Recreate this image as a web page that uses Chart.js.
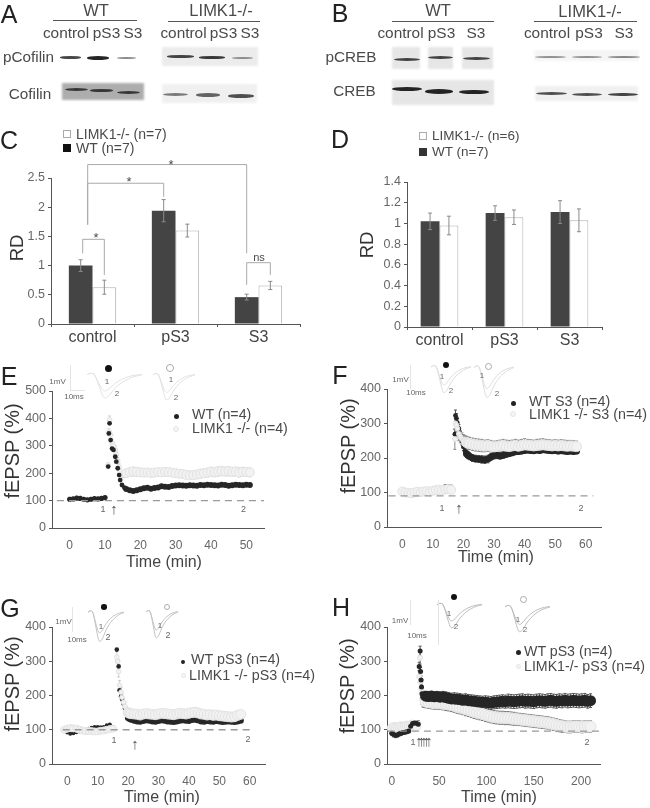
<!DOCTYPE html>
<html>
<head>
<meta charset="utf-8">
<style>
html, body { margin: 0; padding: 0; background: #fff; }
#stage { position: relative; width: 650px; height: 808px; overflow: hidden; font-family: "Liberation Sans", Arial, sans-serif; filter: blur(0.35px); }
#stage canvas { position: absolute; }
.t { position: absolute; white-space: nowrap; line-height: 1; }
.m { position: absolute; box-sizing: border-box; }
</style>
<script src="https://cdn.jsdelivr.net/npm/chart.js@4/dist/chart.umd.js"></script>
</head>
<body>
<div id="stage"></div>
<script>
// Panel C
const barLabels = ['control', 'pS3', 'S3'];
const cWT = [1.0, 1.94, 0.46];
const cKO = [0.63, 1.6, 0.66];
const cWTErr = [0.1, 0.19, 0.05];
const cKOErr = [0.12, 0.11, 0.07];
const cYTicks = [0, 0.5, 1, 1.5, 2, 2.5];

// Panel D
const dWT = [1.02, 1.1, 1.11];
const dKO = [0.98, 1.06, 1.03];
const dWTErr = [0.08, 0.07, 0.11];
const dKOErr = [0.09, 0.07, 0.11];
const dYTicks = [0, 0.2, 0.4, 0.6, 0.8, 1, 1.2, 1.4];

// Panel E
const eXTicks = [0, 10, 20, 30, 40, 50];
const eYTicks = [0, 100, 200, 300, 400, 500];
const eTime = [0,1,2,3,4,5,6,7,8,9,10,
  10.9,11.1,11.3,11.6,12,12.4,12.9,13.2,13.6,14,14.3,14.8,15.5,
  16,17,18,19,20,21,22,23,24,25,26,27,28,29,30,31,32,33,34,35,36,37,38,39,40,41,42,43,44,45,46,47,48,49,50,51];
const eWT = [105,106,109,108,105,103,105,107,106,108,111,
  224,345,382,321,290,285,260,242,218,193,175,157,147,
  142,138,135,138,141,145,147,143,146,148,152,151,150,153,155,156,155,154,156,155,154,157,156,158,157,156,155,158,157,154,156,158,157,156,158,157];
const eKO = [108,107,112,110,106,105,106,108,107,109,112,
  230,350,395,340,310,300,285,268,245,222,205,195,198,
  200,204,206,205,203,202,203,201,202,204,203,205,204,202,200,198,197,194,192,193,195,198,200,202,205,204,206,208,206,207,205,206,203,205,204,203];
const eKOErr = [4,4,5,4,4,4,4,4,4,4,5,
  8,12,14,14,14,14,14,12,12,12,12,12,14,
  14,15,16,16,15,14,14,15,14,14,14,15,15,14,14,14,14,14,15,15,15,16,16,16,17,17,17,17,16,17,16,16,17,17,16,16];
const eRefX = [-3.6, 57.7];
const eRefY = [100, 100];

// Panel F
const fXTicks = [0, 10, 20, 30, 40, 50, 60];
const fYTicks = [0, 100, 200, 300, 400];
const fTime = [0,1,2,3,4,5,6,7,8,9,10,11,12,13,14,15,16,
  17.2,17.4,17.7,18,18.5,19,19.5,20,20.5,21,21.5,22,
  23,24,25,26,27,28,29,30,31,32,33,34,35,36,37,38,39,40,41,42,43,44,45,46,47,48,49,50,51,52,53,54,55,56,57];
const fWT = [98,96,93,92,94,95,96,97,100,103,106,108,110,113,118,119,117,
  269,323,315,302,285,265,250,232,220,212,208,205,
  200,198,197,196,195,197,203,207,208,206,208,211,213,215,218,219,220,222,223,222,221,223,222,224,223,222,221,222,220,221,220,219,220,219,220];
const fKO = [103,100,99,98,100,102,101,103,104,102,105,107,108,106,109,110,108,
  255,300,295,285,270,262,255,250,247,245,243,242,
  240,238,237,236,235,236,234,232,233,235,236,234,233,235,236,234,236,238,237,236,235,236,237,238,237,236,235,236,235,236,235,234,235,234,233];
const fWTErr = [4,4,4,4,4,4,4,4,4,4,4,4,4,4,4,4,4,
  14,16,14,12,12,12,10,10,10,10,10,10,
  10,10,10,11,11,11,10,10,10,9,9,9,9,8,8,8,8,8,8,8,8,8,8,8,8,8,8,8,8,8,8,8,8,8,8];
const fKOErr = [9,9,8,8,8,8,8,8,9,9,9,9,9,9,9,8,8,
  30,28,26,24,20,18,18,18,18,18,18,18,
  18,18,18,18,17,17,17,17,17,17,18,18,18,17,18,18,18,18,17,17,17,18,18,18,17,17,17,17,17,17,17,17,16,16,16];
const fRefX = [-4.5, 62.5];
const fRefY = [90, 90];

// Panel G
const gXTicks = [0, 10, 20, 30, 40, 50, 60];
const gYTicks = [0, 100, 200, 300, 400];
const gTime = [-1,0,1,2,3,4,5,6,7,8,9,10,11,12,13,14,15,
  16.3,16.6,16.9,17.2,17.7,18,18.5,19,19.5,20,20.5,21,
  22,23,24,25,26,27,28,29,30,31,32,33,34,35,36,37,38,39,40,41,42,43,44,45,46,47,48,49,50,51,52,53,54,55,56,57];
const gWT = [97,92,88,90,93,95,97,99,103,106,108,108,107,108,113,115,108,
  334,300,285,215,198,190,177,162,150,135,132,130,
  127,125,124,126,128,127,125,124,126,128,127,125,124,123,125,127,128,127,126,129,130,128,125,124,126,125,124,126,125,123,124,125,124,123,125,127];
const gKO = [100,103,105,104,103,100,98,96,97,96,95,95,97,98,100,102,103,
  312,300,270,230,210,195,180,168,158,150,148,147,
  146,145,143,146,147,146,145,144,146,148,147,146,145,144,146,148,147,146,148,150,151,149,146,145,143,144,142,143,141,140,139,138,137,138,142,145];
const gKOErr = [7,7,8,8,8,8,8,8,8,8,8,8,8,8,7,7,7,
  16,16,16,14,14,12,12,10,10,10,10,10,
  10,10,10,11,11,11,10,10,11,11,10,10,10,10,10,10,11,11,11,11,11,10,10,10,10,10,10,10,9,9,9,9,8,8,8,8];
const gRefX = [-1.5, 60.2];
const gRefY = [100, 100];

// Panel H
const hXTicks = [0, 50, 100, 150, 200];
const hYTicks = [0, 100, 200, 300, 400];
const hTime = [0,2,4,6,8,10,12,14,16,18,20,22,24,26,
  28,29,30,30.5,31,31.5,32,33,34,
  36,39,42,45,48,51,54,57,60,63,66,69,72,75,78,81,84,87,90,93,96,99,102,105,108,111,114,117,120,123,126,129,132,135,138,141,144,147,150,153,156,159,162,165,168,171,174,177,180,183,186,189,192,195,198,201,204,207,210];
const hWT = [90,86,84,85,88,90,92,93,94,96,110,118,120,119,
  116,285,330,270,245,225,205,195,198,
  198,197,198,196,197,195,196,194,192,
  190,190,189,188,186,187,185,184,183,182,181,180,180,179,178,180,181,182,183,182,184,183,182,183,184,185,183,184,183,182,184,185,184,183,185,186,184,183,185,184,186,184,185,186,185,184,185,186,183,185];
const hKO = [105,108,106,107,109,110,108,110,112,111,113,115,112,110,
  118,255,310,240,220,205,190,185,183,
  182,180,179,178,178,177,176,175,174,
  172,170,167,165,163,160,158,155,152,150,148,146,143,141,139,137,136,135,135,134,134,133,132,131,130,129,128,127,126,125,124,123,122,121,120,118,116,114,112,110,109,108,108,109,110,109,108,109,110,109];
const hWTErr = [6,7,7,6,6,6,5,5,5,5,5,5,5,5,
  5,12,14,12,12,10,12,14,14,
  14,15,15,15,15,16,16,17,17,
  17,18,18,18,18,18,18,18,18,18,18,18,19,19,19,19,19,19,19,19,20,20,20,20,20,20,20,20,20,20,20,20,20,20,20,20,20,20,20,20,20,20,20,20,20,20,20,20,20,20];
const hKOErr = [9,9,9,9,9,9,9,9,9,9,9,9,9,9,
  9,16,18,16,16,14,16,18,18,
  18,18,18,18,18,18,18,19,19,
  19,19,19,19,19,19,19,19,19,19,19,19,19,19,19,19,19,19,19,19,19,19,19,18,18,18,18,18,18,18,18,18,18,18,18,18,18,18,18,18,17,17,17,17,17,17,17,17,17,17];
const hRefX = [-4, 223];
const hRefY = [96, 96];

// Inset field potentials, arbitrary units
const traceBase = [90,95,92,70,45,30,34,45,56,65,72,78,82,86,88,90,91];
const tracePost = [90,95,92,65,30,5,8,22,38,50,60,68,74,80,84,87,90];

const brackets = [
  // [catA, dsA, shiftA, catB, dsB, top, lowA, lowB]
  [0, 0, 2, 0, 1, 1.45, 1.21, 0.84],
  [0, 0, 7, 1, 0, 2.41, 1.7, 2.18],
  [0, 0, 7, 2, 0, 2.73, 1.7, 1.21],
  [2, 0, 0, 2, 1, 1.05, 0.67, 0.84]
];

const stage = document.getElementById('stage');
const DARK = '#444444';

function addText(x, y, str, size, opts) {
  opts = opts || {};
  const el = document.createElement('div');
  el.className = 't';
  el.textContent = str;
  el.style.left = x + 'px';
  el.style.top = y + 'px';
  el.style.fontSize = size + 'px';
  el.style.color = opts.color || '#4a4a4a';
  const ax = opts.left ? '0' : '-50%';
  el.style.transform = 'translate(' + ax + ', -50%)' + (opts.rot ? ' rotate(-90deg)' : '');
  if (opts.z) el.style.zIndex = opts.z;
  stage.appendChild(el);
}

function addMarker(x, y, size, fill, border, round) {
  const el = document.createElement('div');
  el.className = 'm';
  el.style.left = (x - size / 2) + 'px';
  el.style.top = (y - size / 2) + 'px';
  el.style.width = size + 'px';
  el.style.height = size + 'px';
  el.style.background = fill;
  if (border) el.style.border = '1px solid ' + border;
  if (round) el.style.borderRadius = '50%';
  stage.appendChild(el);
}

function addRect(x, y, w, h, color, blur, round) {
  const el = document.createElement('div');
  el.className = 'm';
  el.style.left = x + 'px';
  el.style.top = y + 'px';
  el.style.width = w + 'px';
  el.style.height = h + 'px';
  el.style.background = color;
  if (blur) el.style.filter = 'blur(' + blur + 'px)';
  if (round) el.style.borderRadius = '50%';
  stage.appendChild(el);
}

// Draws error bars from dataset.errs
const errorBarsPlugin = {
  id: 'errorBars',
  draw(chart) {
    const ctx = chart.ctx;
    const yScale = chart.scales.y;
    chart.data.datasets.forEach((ds, i) => {
      if (!ds.errs) return;
      const meta = chart.getDatasetMeta(i);
      ctx.save();
      ctx.strokeStyle = ds.errColor;
      ctx.lineWidth = 1;
      meta.data.forEach((el, j) => {
        const v = ds.data[j].y !== undefined ? ds.data[j].y : ds.data[j];
        const top = yScale.getPixelForValue(v + ds.errs[j]);
        const bottom = yScale.getPixelForValue(v - ds.errs[j]);
        const cap = ds.errCap;
        ctx.beginPath();
        ctx.moveTo(el.x, top);
        ctx.lineTo(el.x, bottom);
        ctx.moveTo(el.x - cap, top);
        ctx.lineTo(el.x + cap, top);
        ctx.moveTo(el.x - cap, bottom);
        ctx.lineTo(el.x + cap, bottom);
        ctx.stroke();
      });
      ctx.restore();
    });
  }
};
const barErrors = { id: 'barErrors', afterDatasetsDraw: errorBarsPlugin.draw };
const dotErrors = { id: 'dotErrors', beforeDatasetsDraw: errorBarsPlugin.draw };

// Significance brackets of panel C
const bracketPlugin = {
  id: 'brackets',
  afterDatasetsDraw(chart) {
    const ctx = chart.ctx;
    const y = chart.scales.y;
    ctx.save();
    ctx.strokeStyle = '#aaaaaa';
    ctx.lineWidth = 1;
    brackets.forEach(b => {
      const xa = chart.getDatasetMeta(b[1]).data[b[0]].x + b[2];
      const xb = chart.getDatasetMeta(b[4]).data[b[3]].x;
      ctx.beginPath();
      ctx.moveTo(xa, y.getPixelForValue(b[6]));
      ctx.lineTo(xa, y.getPixelForValue(b[5]));
      ctx.lineTo(xb, y.getPixelForValue(b[5]));
      ctx.lineTo(xb, y.getPixelForValue(b[7]));
      ctx.stroke();
    });
    ctx.restore();
  }
};

function makeCanvas(plot, id) {
  const c = document.createElement('canvas');
  const box = {
    left: Math.max(plot.l - 48, 0),
    top: plot.t - plot.above,
    right: plot.r + 8,
    bottom: plot.b + 26
  };
  c.id = id;
  c.width = box.right - box.left;
  c.height = box.bottom - box.top;
  c.style.left = box.left + 'px';
  c.style.top = box.top + 'px';
  stage.appendChild(c);
  return { c, box };
}

function axisStyle(plot, box) {
  return {
    layout: { padding: { left: 0, bottom: 0, top: plot.t - box.top, right: box.right - plot.r } },
    yFit: s => { s.width = plot.l - box.left; },
    xFit: s => { s.height = box.bottom - plot.b; }
  };
}

function barChart(id, plot, wt, ko, wtErr, koErr, yTicks, yMax, yFont) {
  const { c, box } = makeCanvas(plot, id);
  const st = axisStyle(plot, box);
  const plugins = [barErrors];
  if (id === 'chartC') plugins.push(bracketPlugin);
  return new Chart(c, {
    type: 'bar',
    data: {
      labels: barLabels,
      datasets: [
        { label: 'WT', data: wt, backgroundColor: DARK, borderWidth: 0, errs: wtErr, errColor: '#8a8a8a', errCap: 2 },
        { label: 'LIMK1-/-', data: ko, backgroundColor: '#ffffff', borderColor: '#b0b0b0', borderWidth: 1, errs: koErr, errColor: '#8a8a8a', errCap: 2 }
      ]
    },
    options: {
      responsive: false,
      animation: false,
      layout: st.layout,
      plugins: { legend: { display: false }, tooltip: { enabled: false } },
      datasets: { bar: { categoryPercentage: plot.group, barPercentage: 1 } },
      scales: {
        x: {
          afterFit: st.xFit,
          grid: { drawOnChartArea: false, tickLength: 3, color: '#555555' },
          border: { color: '#555555' },
          ticks: { color: '#444444', font: { size: 16, family: 'Liberation Sans' }, padding: 1, maxRotation: 0, autoSkip: false }
        },
        y: {
          min: 0,
          max: yMax,
          afterFit: st.yFit,
          afterBuildTicks: s => { s.ticks = yTicks.map(v => ({ value: v })); },
          grid: { drawOnChartArea: false, tickLength: 3, color: '#555555' },
          border: { color: '#555555' },
          ticks: { color: '#666666', font: { size: yFont, family: 'Liberation Sans' }, padding: 3, callback: v => String(v) }
        }
      }
    },
    plugins
  });
}

function toPoints(xs, ys) {
  return xs.map((x, i) => ({ x, y: ys[i] }));
}

// radii are [baseline, transient, plateau], phases split at cfg.phases
function radii(cfg, r) {
  return cfg.time.map(t => (t < cfg.phases[0] ? r[0] : t < cfg.phases[1] ? r[1] : r[2]));
}

function timeChart(id, plot, cfg) {
  const { c, box } = makeCanvas(plot, id);
  const st = axisStyle(plot, box);
  const wtSet = {
    label: 'WT', data: toPoints(cfg.time, cfg.wt), order: cfg.wtOnTop ? 1 : 2,
    backgroundColor: '#262626', borderColor: '#262626', pointRadius: radii(cfg, cfg.rWT), borderWidth: 0,
    errs: cfg.wtErr, errColor: '#555555', errCap: 1.5
  };
  const koSet = {
    label: 'LIMK1', data: toPoints(cfg.time, cfg.ko), order: cfg.wtOnTop ? 2 : 1,
    backgroundColor: '#f2f2f2', borderColor: '#e2e2e2', pointRadius: radii(cfg, cfg.rKO), borderWidth: 1,
    errs: cfg.koErr, errColor: cfg.koErrColor, errCap: 1.5
  };
  const refSet = {
    type: 'line', label: 'baseline', data: toPoints(cfg.refX, cfg.refY), order: 0,
    borderColor: '#999999', borderWidth: 1.3, borderDash: [7, 5], pointRadius: 0, fill: false
  };
  return new Chart(c, {
    type: 'scatter',
    data: { datasets: [refSet, koSet, wtSet] },
    options: {
      responsive: false,
      animation: false,
      layout: st.layout,
      plugins: { legend: { display: false }, tooltip: { enabled: false } },
      scales: {
        x: {
          type: 'linear',
          min: cfg.xMin,
          max: cfg.xMax,
          afterFit: st.xFit,
          afterBuildTicks: s => { s.ticks = cfg.xTicks.map(v => ({ value: v })); },
          grid: { display: true, drawOnChartArea: false, drawTicks: false },
          border: { color: '#555555' },
          ticks: { color: '#666666', font: { size: 12, family: 'Liberation Sans' }, padding: 10, maxRotation: 0 }
        },
        y: {
          min: 0,
          max: cfg.yMax,
          afterFit: st.yFit,
          afterBuildTicks: s => { s.ticks = cfg.yTicks.map(v => ({ value: v })); },
          grid: { drawOnChartArea: false, tickLength: 3, color: '#555555' },
          border: { color: '#555555' },
          ticks: { color: '#666666', font: { size: 12.5, family: 'Liberation Sans' }, padding: 3 }
        }
      }
    },
    plugins: [dotErrors]
  });
}

function traceChart(x, y, w, h, color) {
  const c = document.createElement('canvas');
  c.width = w;
  c.height = h;
  c.style.left = x + 'px';
  c.style.top = y + 'px';
  stage.appendChild(c);
  return new Chart(c, {
    type: 'line',
    data: {
      labels: traceBase.map((v, i) => i),
      datasets: [
        { data: traceBase, borderColor: color, borderWidth: 1, pointRadius: 0, tension: 0.35 },
        { data: tracePost, borderColor: color, borderWidth: 1, pointRadius: 0, tension: 0.35 }
      ]
    },
    options: {
      responsive: false,
      animation: false,
      plugins: { legend: { display: false }, tooltip: { enabled: false } },
      scales: { x: { display: false }, y: { display: false, min: 0, max: 100 } }
    }
  });
}

// Western blots A and B: grey strips with soft bands
const blotStrips = [
  [162, 47, 96, 19, '#ececec'], [62, 83, 82, 17, '#adadad'], [162, 84, 95, 19, '#f0f0f0'],
  [392, 47, 28, 22, '#e6e6e6'], [428, 47, 25, 22, '#e6e6e6'], [462, 47, 31, 22, '#e6e6e6'],
  [534, 50, 105, 11, '#f5f5f5'], [392, 80, 102, 25, '#e6e6e6'], [535, 86, 103, 15, '#f0f0f0']
];
const blotBands = [
  [60, 56, 21, 2.5, 0.8], [87, 56, 22, 3.5, 0.95], [117, 57, 19, 2, 0.5],
  [167, 55, 27, 2.5, 0.8], [199, 56, 26, 2.5, 0.85], [232, 56.5, 21, 2, 0.45],
  [65, 88, 23, 3, 0.8], [90, 89, 23, 2.5, 0.8], [117, 91, 23, 3, 0.8],
  [163, 92.5, 25, 3, 0.55], [196, 93, 24, 3.5, 0.65], [228, 94, 26, 3.5, 0.75],
  [394, 58, 26, 3, 0.8], [428, 56, 25, 3, 0.8], [463, 57, 27, 3, 0.8],
  [535, 55.5, 31, 2, 0.45], [572, 55.5, 30, 2, 0.45], [608, 56, 32, 2, 0.5],
  [392, 86.5, 30, 4, 0.95], [425, 89, 28, 4.5, 0.95], [459, 89.5, 30, 4.5, 0.95],
  [536, 91.5, 31, 3, 0.75], [572, 92.5, 30, 3, 0.75], [608, 92.5, 30, 3.5, 0.8]
];
blotStrips.forEach(s => addRect(s[0], s[1], s[2], s[3], s[4], 0.8));
blotBands.forEach(b => addRect(b[0], b[1], b[2], b[3], 'rgba(25,25,25,' + b[4] + ')', 0.7, true));
[[53, 20, 84], [168, 20.5, 92], [392, 21, 102], [534, 21, 103]].forEach(l => addRect(l[0], l[1], l[2], 1.3, '#555555'));

// Charts
barChart('chartC', { l: 50.5, t: 178, r: 300, b: 324, above: 40, group: 0.57 }, cWT, cKO, cWTErr, cKOErr, cYTicks, 2.5, 12.5);
barChart('chartD', { l: 407, t: 182, r: 602, b: 327, above: 12, group: 0.58 }, dWT, dKO, dWTErr, dKOErr, dYTicks, 1.4, 12.5);

timeChart('chartE', { l: 51.5, t: 391, r: 263.5, b: 528, above: 12 }, {
  time: eTime, wt: eWT, ko: eKO, wtErr: null, koErr: eKOErr, refX: eRefX, refY: eRefY, phases: [10.5, 16],
  xTicks: eXTicks, yTicks: eYTicks, xMin: -5, xMax: 55, yMax: 500, rWT: [2.6, 2.4, 3], rKO: [2, 2.4, 4.5], wtOnTop: true, koErrColor: '#d0d0d0'
});
timeChart('chartF', { l: 386.5, t: 389, r: 600.5, b: 527, above: 12 }, {
  time: fTime, wt: fWT, ko: fKO, wtErr: fWTErr, koErr: fKOErr, refX: fRefX, refY: fRefY, phases: [17, 21],
  xTicks: fXTicks, yTicks: fYTicks, xMin: -5, xMax: 65, yMax: 400, rWT: [2, 2.4, 3.5], rKO: [4.5, 2.4, 5], wtOnTop: false, koErrColor: '#8c8c8c'
});
timeChart('chartG', { l: 51.5, t: 627, r: 265, b: 764, above: 12 }, {
  time: gTime, wt: gWT, ko: gKO, wtErr: null, koErr: gKOErr, refX: gRefX, refY: gRefY, phases: [16, 20],
  xTicks: gXTicks, yTicks: gYTicks, xMin: -5, xMax: 65, yMax: 400, rWT: [2, 2.3, 3.2], rKO: [3.5, 2.3, 5], wtOnTop: false, koErrColor: '#cccccc'
});
timeChart('chartH', { l: 386.5, t: 627, r: 599.5, b: 764, above: 12 }, {
  time: hTime, wt: hWT, ko: hKO, wtErr: hWTErr, koErr: hKOErr, refX: hRefX, refY: hRefY, phases: [28, 35],
  xTicks: hXTicks, yTicks: hYTicks, xMin: -5, xMax: 220, yMax: 400, rWT: [2.5, 2.5, 5.5], rKO: [4.5, 2.5, 5.5], wtOnTop: true, koErrColor: '#777777'
});

// Inset traces
traceChart(87, 372, 55, 27, '#e2e2e2');
traceChart(153, 372, 42, 29, '#e2e2e2');
traceChart(431, 364, 40, 30, '#dddddd');
traceChart(474, 364, 40, 35, '#dddddd');
traceChart(88, 609, 36, 34, '#c4c4c4');
traceChart(146, 609, 32, 30, '#c4c4c4');
traceChart(437, 602, 45, 27, '#bdbdbd');
traceChart(505, 604, 45, 29, '#bdbdbd');

// Scale bars next to the traces
[[70, 365, 1, 25], [70, 390, 15, 1], [410, 365, 1, 24], [72, 607, 1, 25], [410, 600, 1, 25], [438, 600, 1, 45]].forEach(r => addRect(r[0], r[1], r[2], r[3], '#e4e4e4'));

// Panel letters
[['A', 9, 14], ['B', 340, 13], ['C', 9, 140], ['D', 340, 139], ['E', 9, 376], ['F', 340, 375], ['G', 10, 608], ['H', 341, 607]]
  .forEach(p => addText(p[1], p[2], p[0], 25, { color: '#222222' }));

// Blot labels
[
  ['WT', 96, 10, 16.5], ['LIMK1-/-', 221, 10, 16.5], ['WT', 438, 10, 16.5], ['LIMK1-/-', 590, 11, 16.5],
  ['control', 66, 33, 15.4], ['pS3', 106.5, 33, 15.4], ['S3', 133, 33, 15.4],
  ['control', 183.5, 33, 15.4], ['pS3', 223.5, 33, 15.4], ['S3', 250, 33, 15.4],
  ['control', 400.5, 33, 15.4], ['pS3', 441.5, 33, 15.4], ['S3', 476, 33, 15.4],
  ['control', 547, 33, 15.4], ['pS3', 589, 33, 15.4], ['S3', 624, 33, 15.4],
  ['pCofilin', 28.5, 57, 15.3], ['Cofilin', 30, 94, 15.3], ['pCREB', 351, 57, 15.3], ['CREB', 354.5, 91, 15.3]
].forEach(t => addText(t[1], t[2], t[0], t[3]));

// Axis titles
[['RD', 17, 248, 18.5], ['RD', 367, 245, 18.5], ['fEPSP (%)', 12, 451, 20], ['fEPSP (%)', 348, 446, 20], ['fEPSP (%)', 12, 684, 20], ['fEPSP (%)', 347, 686, 20]]
  .forEach(t => addText(t[1], t[2], t[0], t[3], { rot: true, color: '#333333' }));
[[164, 562], [496, 557], [162, 797], [499, 797]].forEach(t => addText(t[0], t[1], 'Time (min)', 16, { color: '#444444' }));

// Significance marks in C
[['*', 96, 237, 13], ['*', 129, 181, 13], ['*', 171, 164, 13], ['ns', 259, 257, 11]].forEach(t => addText(t[1], t[2], t[0], t[3]));

// Legends
addMarker(67, 134, 8, '#fff', '#aaa');
addMarker(67, 148, 8, '#111', null);
addText(76, 134, 'LIMK1-/- (n=7)', 14, { left: true });
addText(76, 148, 'WT (n=7)', 14, { left: true });
addMarker(423, 136, 8, '#fff', '#aaa');
addMarker(423, 152, 8, '#333', null);
addText(432, 136, 'LIMK1-/- (n=6)', 13.5, { left: true });
addText(432, 152, 'WT (n=7)', 13.5, { left: true });

addMarker(176, 416, 5, '#222', null, true);
addMarker(176, 429, 6, '#f6f6f6', '#e4e4e4', true);
addText(192, 414, 'WT (n=4)', 14.2, { left: true });
addText(192, 428, 'LIMK1 -/- (n=4)', 14.2, { left: true });

addMarker(513, 403, 5, '#222', null, true);
addMarker(513, 414, 6, '#f6f6f6', '#e4e4e4', true);
addText(529, 401, 'WT S3 (n=4)', 14.3, { left: true });
addText(529, 414, 'LIMK1 -/- S3 (n=4)', 14.3, { left: true });

addMarker(183, 662, 4, '#222', null, true);
addMarker(183, 675, 5, '#f6f6f6', '#e4e4e4', true);
addText(191, 659, 'WT pS3 (n=4)', 14.3, { left: true });
addText(189, 675, 'LIMK1 -/- pS3 (n=4)', 14.3, { left: true });

addMarker(518, 652, 5, '#222', null, true);
addMarker(518, 666, 5, '#f6f6f6', '#e4e4e4', true);
addText(524, 651, 'WT pS3 (n=4)', 14.2, { left: true });
addText(524, 666, 'LIMK1-/- pS3 (n=4)', 14.2, { left: true });

// Condition circles above the insets
[[108, 368, 7, 1], [446, 365, 6, 1], [104, 607, 5.5, 1], [454, 597, 6, 1]].forEach(m => addMarker(m[0], m[1], m[2], '#111', null, true));
[[170, 368, 8], [488, 366, 7], [167, 607, 6.5], [523, 599, 7]].forEach(m => addMarker(m[0], m[1], m[2], '#fff', '#aaa', true));

// Small labels: scale bars, trace numbers, induction marks
[
  ['1mV', 57.5, 382, 8], ['10ms', 74, 397, 8], ['1', 107, 382, 8], ['2', 117, 394, 8], ['1', 171, 380, 8], ['2', 176, 398, 8],
  ['1mV', 400.5, 380, 8], ['10ms', 416, 393, 8], ['1', 442, 377, 8], ['2', 451, 391, 8], ['1', 482, 376, 8], ['2', 497, 394, 8],
  ['1mV', 63.5, 622, 8], ['10ms', 77, 640, 8], ['1', 101, 627, 8], ['2', 108, 637, 9], ['1', 160, 626, 8], ['2', 168, 635, 9],
  ['1mV', 400, 621, 8], ['10ms', 417, 636, 8], ['1', 449, 614, 8], ['2', 456, 627, 8], ['1', 518, 620, 8], ['2', 525, 630, 8],
  ['1', 103, 509, 9], ['2', 243.5, 509, 9], ['1', 442, 508, 9], ['2', 581, 508, 9],
  ['1', 114, 740, 9], ['2', 248, 739, 9], ['1', 413, 742, 9], ['2', 587, 742, 9]
].forEach(t => addText(t[1], t[2], t[0], t[3], { color: '#666666', z: 5 }));
[[114, 508], [459, 507], [135, 743], [419, 740], [421.5, 740], [424, 740], [426.5, 740], [429, 740]]
  .forEach(a => addText(a[0], a[1], '↑', 15, { color: '#555555', z: 5 }));
</script>
</body>
</html>
